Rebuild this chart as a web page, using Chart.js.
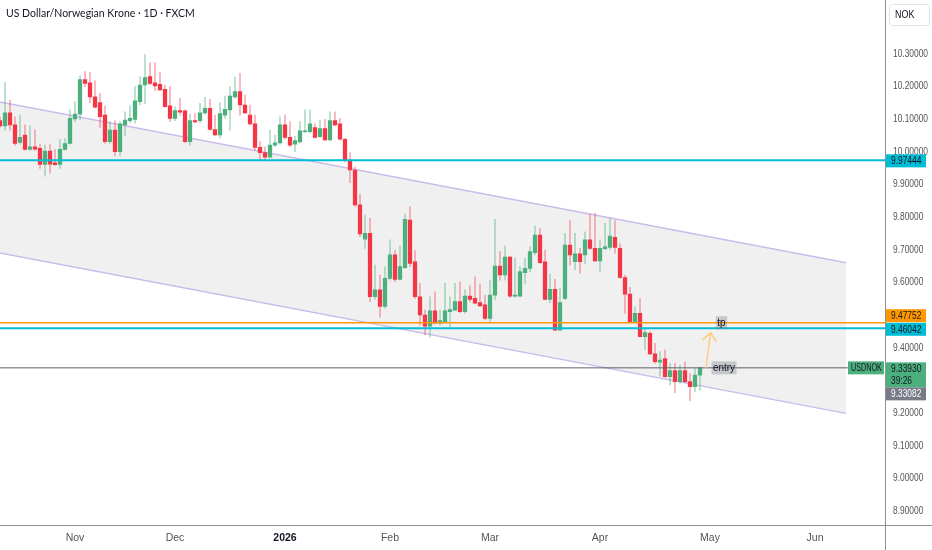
<!DOCTYPE html>
<html lang="en">
<head>
  <meta charset="UTF-8" />
  <title>USDNOK 1D</title>
  <script src="https://cdn.jsdelivr.net/npm/chart.js"></script>
  <style>
    body { margin: 0; background: #fff; }
    canvas { display: block; }
  </style>
</head>
<body>
  <canvas id="usdnokChart" width="932" height="550"></canvas>

  <script>
    // bar index 0 = first trading day of Nov 2025, one bar per trading day
    const firstBar = -15;

    const opens = [
      10.096, 10.080, 10.120, 10.083, 10.029, 10.052, 10.008, 10.016, 10.011, 9.962,
      10.003, 9.967, 9.962, 10.008, 10.026, 10.101, 10.116, 10.222, 10.212, 10.169,
      10.151, 10.113, 10.032, 10.067, 10.001, 10.083, 10.096, 10.100, 10.154, 10.205,
      10.231, 10.212, 10.207, 10.192, 10.141, 10.103, 10.127, 10.126, 10.032, 10.096,
      10.096, 10.120, 10.134, 10.069, 10.052, 10.113, 10.129, 10.169, 10.185, 10.144,
      10.113, 10.086, 10.014, 9.998, 9.984, 10.021, 10.028, 10.083, 10.045, 10.024,
      10.031, 10.062, 10.062, 10.075, 10.047, 10.072, 10.037, 10.096, 10.086, 10.039,
      9.975, 9.945, 9.838, 9.733, 9.751, 9.557, 9.578, 9.527, 9.613, 9.685,
      9.610, 9.646, 9.792, 9.664, 9.557, 9.501, 9.467, 9.514, 9.476, 9.481,
      9.511, 9.516, 9.542, 9.511, 9.559, 9.552, 9.539, 9.532, 9.491, 9.562,
      9.651, 9.624, 9.678, 9.559, 9.559, 9.631, 9.644, 9.692, 9.746, 9.664,
      9.549, 9.580, 9.455, 9.552, 9.715, 9.664, 9.688, 9.685, 9.731, 9.705,
      9.667, 9.704, 9.708, 9.739, 9.705, 9.616, 9.565, 9.481, 9.506, 9.435,
      9.445, 9.382, 9.357, 9.368, 9.312, 9.331, 9.297, 9.331, 9.297, 9.282, 9.317
    ];
    const highs = [
      10.108, 10.213, 10.159, 10.108, 10.113, 10.083, 10.080, 10.068, 10.024, 10.021,
      10.023, 10.008, 10.039, 10.042, 10.129, 10.154, 10.233, 10.246, 10.243, 10.218,
      10.180, 10.141, 10.093, 10.096, 10.093, 10.123, 10.141, 10.200, 10.231, 10.298,
      10.273, 10.273, 10.243, 10.205, 10.200, 10.139, 10.164, 10.129, 10.116, 10.118,
      10.149, 10.167, 10.161, 10.113, 10.151, 10.171, 10.200, 10.229, 10.241, 10.174,
      10.144, 10.113, 10.032, 10.016, 10.067, 10.052, 10.108, 10.113, 10.093, 10.049,
      10.093, 10.129, 10.129, 10.086, 10.098, 10.100, 10.123, 10.123, 10.103, 10.042,
      9.998, 9.955, 9.871, 9.807, 9.797, 9.654, 9.623, 9.649, 9.731, 9.700,
      9.712, 9.810, 9.833, 9.698, 9.598, 9.516, 9.557, 9.572, 9.516, 9.598,
      9.557, 9.598, 9.603, 9.578, 9.590, 9.618, 9.596, 9.562, 9.608, 9.794,
      9.695, 9.712, 9.680, 9.675, 9.649, 9.675, 9.710, 9.773, 9.766, 9.700,
      9.626, 9.610, 9.583, 9.751, 9.790, 9.751, 9.705, 9.756, 9.810, 9.812,
      9.731, 9.782, 9.797, 9.790, 9.720, 9.623, 9.586, 9.527, 9.552, 9.460,
      9.450, 9.414, 9.389, 9.394, 9.353, 9.353, 9.348, 9.358, 9.322, 9.338, 9.342
    ];
    const lows = [
      10.075, 10.067, 10.067, 10.021, 10.024, 10.006, 10.006, 10.006, 9.950, 9.926,
      9.935, 9.960, 9.950, 10.006, 10.024, 10.093, 10.098, 10.200, 10.151, 10.134,
      10.075, 10.026, 10.026, 9.988, 9.988, 10.049, 10.090, 10.088, 10.144, 10.149,
      10.205, 10.188, 10.188, 10.137, 10.093, 10.096, 10.113, 10.029, 10.021, 10.090,
      10.090, 10.116, 10.067, 10.049, 10.042, 10.103, 10.067, 10.164, 10.113, 10.118,
      10.083, 10.006, 9.976, 9.973, 9.981, 10.016, 10.024, 10.039, 10.016, 10.001,
      10.028, 10.059, 10.057, 10.042, 10.045, 10.035, 10.035, 10.080, 10.037, 9.970,
      9.906, 9.833, 9.741, 9.705, 9.542, 9.549, 9.494, 9.521, 9.608, 9.603,
      9.608, 9.644, 9.649, 9.552, 9.470, 9.440, 9.433, 9.474, 9.470, 9.478,
      9.460, 9.514, 9.508, 9.506, 9.542, 9.535, 9.527, 9.486, 9.476, 9.547,
      9.608, 9.608, 9.555, 9.555, 9.557, 9.598, 9.634, 9.685, 9.659, 9.547,
      9.539, 9.455, 9.455, 9.547, 9.654, 9.640, 9.628, 9.659, 9.702, 9.664,
      9.634, 9.700, 9.702, 9.690, 9.612, 9.506, 9.478, 9.478, 9.435, 9.394,
      9.379, 9.353, 9.314, 9.310, 9.287, 9.263, 9.292, 9.294, 9.239, 9.266, 9.271
    ];
    const closes = [
      10.080, 10.120, 10.083, 10.026, 10.045, 10.008, 10.016, 10.009, 9.962, 10.003,
      9.963, 9.961, 10.008, 10.026, 10.103, 10.116, 10.222, 10.210, 10.169, 10.137,
      10.108, 10.032, 10.067, 10.001, 10.086, 10.098, 10.103, 10.157, 10.205, 10.228,
      10.210, 10.202, 10.190, 10.139, 10.103, 10.127, 10.122, 10.032, 10.096, 10.092,
      10.120, 10.134, 10.069, 10.052, 10.118, 10.131, 10.171, 10.185, 10.144, 10.120,
      10.086, 10.014, 9.998, 9.984, 10.021, 10.028, 10.083, 10.045, 10.021, 10.035,
      10.065, 10.065, 10.086, 10.045, 10.072, 10.037, 10.096, 10.083, 10.039, 9.975,
      9.945, 9.838, 9.749, 9.751, 9.557, 9.578, 9.527, 9.613, 9.685, 9.610,
      9.649, 9.794, 9.659, 9.557, 9.501, 9.467, 9.514, 9.476, 9.484, 9.514,
      9.518, 9.542, 9.511, 9.559, 9.549, 9.537, 9.529, 9.491, 9.562, 9.651,
      9.624, 9.678, 9.559, 9.562, 9.634, 9.644, 9.695, 9.746, 9.661, 9.549,
      9.580, 9.455, 9.539, 9.715, 9.685, 9.688, 9.664, 9.731, 9.705, 9.667,
      9.705, 9.710, 9.743, 9.708, 9.616, 9.565, 9.481, 9.506, 9.435, 9.447,
      9.382, 9.358, 9.363, 9.312, 9.331, 9.297, 9.331, 9.297, 9.282, 9.317, 9.339
    ];

    const monthLabels = ['Nov', 'Dec', '2026', 'Feb', 'Mar', 'Apr', 'May', 'Jun'];
    const monthBars = [0, 20, 42, 63, 83, 105, 127, 148];
    const priceTicks = [8.9, 9.0, 9.1, 9.2, 9.3, 9.4, 9.5, 9.6, 9.7, 9.8, 9.9, 10.0, 10.1, 10.2, 10.3];

    // drawings (bar index, price)
    const channelTop = [[-15, 10.153], [154.2, 9.661]];
    const channelBottom = [[-15, 9.691], [154.2, 9.200]];
    const resistance = 9.97444;
    const takeProfit = 9.47752;
    const support = 9.46042;
    const lastPrice = 9.33930;
    const prevPrice = 9.33082;
    const countdown = '39:26';
    const arrowPath = [[126.2, 9.338], [127.1, 9.447]];

    const UP = '#4caf7e', DOWN = '#f23645';
    const UP_WICK = 'rgba(76,175,126,0.45)', DOWN_WICK = 'rgba(242,54,69,0.42)';
    const SANS = "'Liberation Sans', Arial, sans-serif";

    const isUp = opens.map((o, k) => closes[k] >= o);
    const bodies = opens.map((o, k) => ({ x: firstBar + k, y: [o, closes[k]] }));
    const wicks = lows.map((l, k) => ({ x: firstBar + k, y: [l, highs[k]] }));
    const pts = arr => arr.map(p => ({ x: p[0], y: p[1] }));
    const flat = (price, toBar) => [{ x: -15, y: price }, { x: toBar, y: price }];

    // the scale font on the original is a narrow one, squeeze Liberation a bit
    function narrowText(ctx, text, x, y, size, squeeze, align) {
      ctx.save();
      ctx.font = size + 'px ' + SANS;
      ctx.textBaseline = 'middle';
      ctx.textAlign = align || 'left';
      ctx.translate(x, y);
      ctx.scale(squeeze, 1);
      ctx.fillText(text, 0, 0);
      ctx.restore();
    }

    const overlay = {
      id: 'overlay',
      afterDraw(chart) {
        const { ctx, scales: { x, y } } = chart;
        const axisX = x.right;
        ctx.save();

        // axis lines
        ctx.strokeStyle = '#8f9199';
        ctx.lineWidth = 1;
        ctx.beginPath();
        ctx.moveTo(Math.round(axisX) + 0.5, 0);
        ctx.lineTo(Math.round(axisX) + 0.5, 550);
        ctx.moveTo(0, Math.round(y.bottom) + 0.5);
        ctx.lineTo(932, Math.round(y.bottom) + 0.5);
        ctx.stroke();

        // price scale labels
        ctx.fillStyle = '#555';
        y.ticks.forEach(t => {
          narrowText(ctx, t.value.toFixed(5), axisX + 8, y.getPixelForValue(t.value), 10, 0.84);
        });

        // arrow head
        const a0 = { x: x.getPixelForValue(arrowPath[0][0]), y: y.getPixelForValue(arrowPath[0][1]) };
        const a1 = { x: x.getPixelForValue(arrowPath[1][0]), y: y.getPixelForValue(arrowPath[1][1]) };
        const ang = Math.atan2(a1.y - a0.y, a1.x - a0.x);
        ctx.strokeStyle = '#ffcc80';
        ctx.lineWidth = 1.5;
        ctx.beginPath();
        ctx.moveTo(a1.x - 11 * Math.cos(ang - 0.7), a1.y - 11 * Math.sin(ang - 0.7));
        ctx.lineTo(a1.x, a1.y);
        ctx.lineTo(a1.x - 11 * Math.cos(ang + 0.7), a1.y - 11 * Math.sin(ang + 0.7));
        ctx.stroke();

        // text notes on the chart
        const note = (text, bar, price) => {
          const cx = x.getPixelForValue(bar), cy = y.getPixelForValue(price);
          ctx.font = '11px ' + SANS;
          const w = ctx.measureText(text).width * 0.9 + 3;
          ctx.fillStyle = 'rgba(120,123,134,0.35)';
          ctx.fillRect(cx - w / 2, cy - 6.5, w, 13);
          ctx.fillStyle = '#131722';
          narrowText(ctx, text, cx, cy + 0.5, 11, 0.9, 'center');
        };
        note('tp', 129.3, takeProfit);
        note('entry', 129.8, lastPrice);

        // symbol tag on the last price line
        const lineEnd = x.getPixelForValue(154.6);
        const py = y.getPixelForValue(lastPrice);
        ctx.fillStyle = UP;
        ctx.fillRect(lineEnd, py - 6.5, axisX - lineEnd - 1, 13);
        ctx.fillStyle = '#131722';
        narrowText(ctx, 'USDNOK', (lineEnd + axisX) / 2, py + 0.5, 10, 0.72, 'center');

        // price tags on the right scale
        const tag = (text, cy, bg, fg, h) => {
          ctx.fillStyle = bg;
          ctx.fillRect(axisX + 1, cy - 6.5, 40, h || 13);
          ctx.fillStyle = fg;
          narrowText(ctx, text, axisX + 6, cy + 0.5, 10, 0.84);
        };
        tag(resistance.toFixed(5), y.getPixelForValue(resistance) + 0.5, '#00bcd4', '#131722');
        tag(takeProfit.toFixed(5), y.getPixelForValue(takeProfit) - 7, '#ff9800', '#131722');
        tag(support.toFixed(5), y.getPixelForValue(support) + 1, '#00bcd4', '#131722');
        tag(lastPrice.toFixed(5), py + 1, UP, '#131722', 25);
        ctx.fillStyle = '#131722';
        narrowText(ctx, countdown, axisX + 6, py + 13, 10, 0.84);
        tag(prevPrice.toFixed(5), py + 26, '#787b86', '#ffffff');

        // currency box and title
        ctx.beginPath();
        ctx.roundRect(axisX + 4.5, 4.5, 40, 21, 3);
        ctx.fillStyle = '#ffffff';
        ctx.fill();
        ctx.strokeStyle = '#e0e3eb';
        ctx.lineWidth = 1;
        ctx.stroke();
        ctx.fillStyle = '#131722';
        narrowText(ctx, 'NOK', axisX + 10, 15, 10.5, 0.85);

        ctx.font = "10.5px Lato, 'Liberation Sans', sans-serif";
        ctx.textBaseline = 'middle';
        ctx.textAlign = 'left';
        ctx.fillStyle = '#131722';
        ctx.fillText('US Dollar/Norwegian Krone \u00b7 1D \u00b7 FXCM', 6, 14);
        ctx.restore();
      }
    };

    new Chart(document.getElementById('usdnokChart'), {
      data: {
        datasets: [
          {
            type: 'line', data: pts(channelTop),
            borderColor: '#cbbbe9', borderWidth: 1.5, pointRadius: 0, fill: false, order: 5
          },
          {
            type: 'line', data: pts(channelBottom),
            borderColor: '#cbbbe9', borderWidth: 1.5, pointRadius: 0,
            fill: '-1', backgroundColor: 'rgba(0,0,0,0.06)', order: 5
          },
          {
            type: 'bar', data: wicks, grouped: false, barThickness: 1,
            backgroundColor: isUp.map(u => u ? UP_WICK : DOWN_WICK), order: 4
          },
          {
            type: 'bar', data: bodies, grouped: false, barThickness: 3.6, minBarLength: 1,
            backgroundColor: isUp.map(u => u ? UP : DOWN), order: 3
          },
          {
            type: 'line', data: flat(resistance, 162),
            borderColor: '#00bcd4', borderWidth: 2, pointRadius: 0, order: 2
          },
          {
            type: 'line', data: flat(takeProfit, 162),
            borderColor: '#ff9800', borderWidth: 1.6, pointRadius: 0, order: 2
          },
          {
            type: 'line', data: flat(support, 162),
            borderColor: '#00bcd4', borderWidth: 2, pointRadius: 0, order: 2
          },
          {
            type: 'line', data: flat(lastPrice, 154.6),
            borderColor: '#5d606b', borderWidth: 1, pointRadius: 0, order: 2
          },
          {
            type: 'line', data: pts(arrowPath),
            borderColor: '#ffcc80', borderWidth: 1.5, pointRadius: 0, order: 1
          }
        ]
      },
      options: {
        responsive: false,
        animation: false,
        layout: { padding: 0 },
        plugins: { legend: { display: false }, tooltip: { enabled: false } },
        scales: {
          x: {
            type: 'linear', position: 'bottom', min: -15, max: 162, offset: false,
            grid: { display: false, drawTicks: false, offset: false }, border: { display: false },
            afterBuildTicks: s => { s.ticks = monthBars.map(v => ({ value: v })); },
            afterFit: s => { s.height = 25.3; s.paddingLeft = 0; s.paddingRight = 0; },
            ticks: {
              autoSkip: false, maxRotation: 0, padding: 7,
              callback: v => monthLabels[monthBars.indexOf(v)],
              color: c => (c.tick && c.tick.label === '2026') ? '#131722' : '#555',
              font: c => ({
                family: SANS, size: 10.5,
                weight: (c.tick && c.tick.label === '2026') ? 'bold' : 'normal'
              })
            }
          },
          y: {
            type: 'linear', position: 'right', min: 8.8592, max: 10.4653,
            grid: { display: false, drawTicks: false }, border: { display: false },
            afterBuildTicks: s => { s.ticks = priceTicks.map(v => ({ value: v })); },
            afterFit: s => { s.width = 47; s.paddingTop = 0; s.paddingBottom = 0; },
            ticks: { display: false }
          }
        }
      },
      plugins: [overlay]
    });
  </script>
</body>
</html>
